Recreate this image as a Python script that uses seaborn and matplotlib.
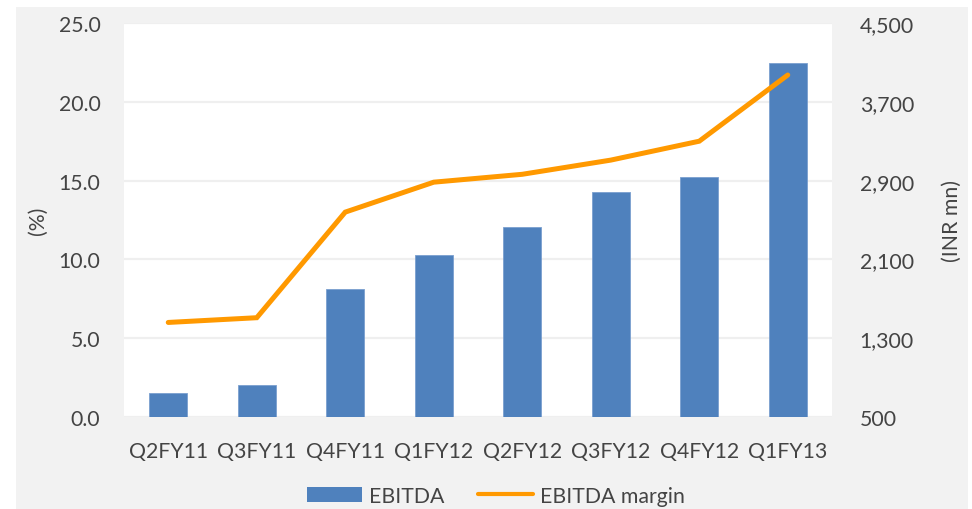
import matplotlib
matplotlib.use("Agg")
import matplotlib.pyplot as plt
from matplotlib.patches import Rectangle, Patch
from matplotlib.lines import Line2D
from matplotlib.ticker import FuncFormatter, FixedLocator
import seaborn as sns
import pandas as pd

# Quarterly EBITDA (INR mn) and EBITDA margin (%)
quarters = ["Q2FY11", "Q3FY11", "Q4FY11", "Q1FY12", "Q2FY12", "Q3FY12", "Q4FY12", "Q1FY13"]
ebitda_inr_mn = [741, 822, 1796, 2144, 2425, 2787, 2933, 4090]
ebitda_margin_pct = [6.0, 6.3, 13.0, 14.9, 15.4, 16.3, 17.5, 21.7]

left_ticks = [0.0, 5.0, 10.0, 15.0, 20.0, 25.0]
right_ticks = [500, 1300, 2100, 2900, 3700, 4500]

BAR_BLUE = "#4f81bd"
LINE_ORANGE = "#ff9900"
TEXT = "#444444"
GRID = "#efefef"
PANEL = "#f2f2f2"

sns.set_theme(style="white")
plt.rcParams["font.family"] = ["Lato", "DejaVu Sans"]
FS = 15.3

df = pd.DataFrame({"quarter": quarters, "ebitda": ebitda_inr_mn, "margin": ebitda_margin_pct})

fig = plt.figure(figsize=(9.72, 5.10), dpi=100)
fig.patch.set_facecolor("white")
W, H = 972, 510
fig.patches.append(Rectangle((16 / W, 0), (968 - 16) / W, 1 - 8 / H,
                             transform=fig.transFigure, facecolor=PANEL,
                             edgecolor="none", zorder=0))

ax = fig.add_axes([124 / W, 1 - 418 / H, (832 - 124) / W, (418 - 24) / H])
ax2 = ax.twinx()

# bars on the secondary (INR mn) axis, drawn underneath the margin line
ax.set_zorder(2)
ax2.set_zorder(1)
ax.patch.set_visible(False)
ax2.patch.set_visible(True)
ax2.patch.set_facecolor("white")

sns.barplot(data=df, x="quarter", y="ebitda", color=BAR_BLUE, width=0.43,
            saturation=1, ax=ax2, edgecolor="#7a9fcf", linewidth=0.6)
sns.lineplot(data=df, x="quarter", y="margin", color=LINE_ORANGE, linewidth=3.6,
             sort=False, ax=ax, solid_capstyle="round", solid_joinstyle="miter")

ax.set_xlim(-0.5, len(quarters) - 0.5)
ax.set_ylim(0, 25)
ax2.set_ylim(500, 4500)
ax.yaxis.set_major_locator(FixedLocator(left_ticks))
ax2.yaxis.set_major_locator(FixedLocator(right_ticks))
ax.yaxis.set_major_formatter(FuncFormatter(lambda v, p: f"{v:.1f}"))
ax2.yaxis.set_major_formatter(FuncFormatter(lambda v, p: f"{v:,.0f}"))

ax2.grid(axis="y", color=GRID, linewidth=1.6)
ax2.set_axisbelow(True)
ax.grid(False)
ax2.grid(axis="x", visible=False)

for a in (ax, ax2):
    for s in a.spines.values():
        s.set_visible(False)
    a.tick_params(length=0, labelsize=FS, colors=TEXT)

ax.tick_params(axis="y", pad=17)
ax2.tick_params(axis="y", pad=20)
ax.tick_params(axis="x", pad=17)
ax2.tick_params(axis="x", bottom=False, labelbottom=False)

ax.set_xlabel("")
ax2.set_xlabel("")
ax.set_ylabel("(%)", fontsize=FS, color=TEXT, labelpad=8)
ax2.set_ylabel("(INR mn)", fontsize=FS, color=TEXT, labelpad=20)

handles = [Patch(facecolor=BAR_BLUE, edgecolor="none"),
           Line2D([0], [0], color=LINE_ORANGE, linewidth=3.0)]
fig.legend(handles, ["EBITDA", "EBITDA margin"], loc="center",
           bbox_to_anchor=(0.51, 1 - 497 / H), ncol=2, frameon=False,
           fontsize=FS, labelcolor=TEXT, handlelength=2.6, handleheight=0.75,
           columnspacing=1.6, handletextpad=0.3)

fig.savefig("out.png", dpi=100, facecolor=fig.get_facecolor())
